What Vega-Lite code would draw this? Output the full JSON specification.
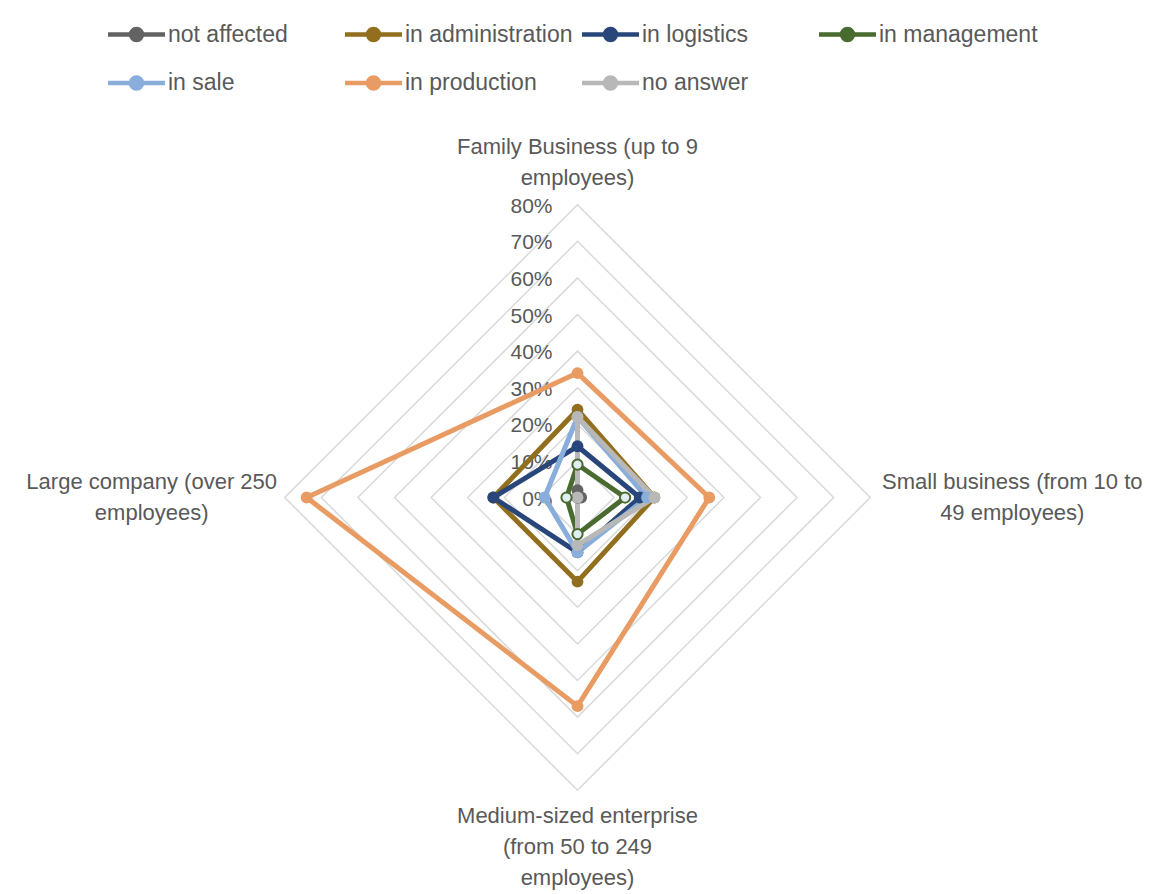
{
  "$schema": "https://vega.github.io/schema/vega-lite/v6.json",
  "width": 1164,
  "height": 894,
  "padding": 0,
  "autosize": {"type": "none"},
  "background": "white",
  "config": {"view": {"stroke": null}, "font": "Liberation Sans"},
  "datasets": {
    "survey": [
      {"category": "Family Business (up to 9 employees)", "series": "not affected", "value": 0.02},
      {"category": "Small business (from 10 to 49 employees)", "series": "not affected", "value": 0.01},
      {"category": "Medium-sized enterprise (from 50 to 249 employees)", "series": "not affected", "value": 0.0},
      {"category": "Large company (over 250 employees)", "series": "not affected", "value": 0.0},
      {"category": "Family Business (up to 9 employees)", "series": "in administration", "value": 0.24},
      {"category": "Small business (from 10 to 49 employees)", "series": "in administration", "value": 0.21},
      {"category": "Medium-sized enterprise (from 50 to 249 employees)", "series": "in administration", "value": 0.23},
      {"category": "Large company (over 250 employees)", "series": "in administration", "value": 0.23},
      {"category": "Family Business (up to 9 employees)", "series": "in logistics", "value": 0.14},
      {"category": "Small business (from 10 to 49 employees)", "series": "in logistics", "value": 0.17},
      {"category": "Medium-sized enterprise (from 50 to 249 employees)", "series": "in logistics", "value": 0.15},
      {"category": "Large company (over 250 employees)", "series": "in logistics", "value": 0.23},
      {"category": "Family Business (up to 9 employees)", "series": "in management", "value": 0.09},
      {"category": "Small business (from 10 to 49 employees)", "series": "in management", "value": 0.13},
      {"category": "Medium-sized enterprise (from 50 to 249 employees)", "series": "in management", "value": 0.10},
      {"category": "Large company (over 250 employees)", "series": "in management", "value": 0.03},
      {"category": "Family Business (up to 9 employees)", "series": "in sale", "value": 0.22},
      {"category": "Small business (from 10 to 49 employees)", "series": "in sale", "value": 0.19},
      {"category": "Medium-sized enterprise (from 50 to 249 employees)", "series": "in sale", "value": 0.15},
      {"category": "Large company (over 250 employees)", "series": "in sale", "value": 0.09},
      {"category": "Family Business (up to 9 employees)", "series": "in production", "value": 0.34},
      {"category": "Small business (from 10 to 49 employees)", "series": "in production", "value": 0.36},
      {"category": "Medium-sized enterprise (from 50 to 249 employees)", "series": "in production", "value": 0.57},
      {"category": "Large company (over 250 employees)", "series": "in production", "value": 0.74},
      {"category": "Family Business (up to 9 employees)", "series": "no answer", "value": 0.22},
      {"category": "Small business (from 10 to 49 employees)", "series": "no answer", "value": 0.21},
      {"category": "Medium-sized enterprise (from 50 to 249 employees)", "series": "no answer", "value": 0.13},
      {"category": "Large company (over 250 employees)", "series": "no answer", "value": 0.0}
    ],
    "rings": [
      {"level": 0.1, "k": [0, 1, 2, 3]},
      {"level": 0.2, "k": [0, 1, 2, 3]},
      {"level": 0.3, "k": [0, 1, 2, 3]},
      {"level": 0.4, "k": [0, 1, 2, 3]},
      {"level": 0.5, "k": [0, 1, 2, 3]},
      {"level": 0.6, "k": [0, 1, 2, 3]},
      {"level": 0.7, "k": [0, 1, 2, 3]},
      {"level": 0.8, "k": [0, 1, 2, 3]}
    ],
    "ticks": [
      {"level": 0}, {"level": 0.1}, {"level": 0.2}, {"level": 0.3}, {"level": 0.4},
      {"level": 0.5}, {"level": 0.6}, {"level": 0.7}, {"level": 0.8}
    ],
    "cats": [
      {"k": 0, "label": "Family Business (up to 9\nemployees)"},
      {"k": 1, "label": "Small business (from 10 to\n49 employees)"},
      {"k": 2, "label": "Medium-sized enterprise\n(from 50 to 249\nemployees)"},
      {"k": 3, "label": "Large company (over 250\nemployees)"}
    ]
  },
  "layer": [
    {
      "data": {"name": "rings"},
      "transform": [
        {"flatten": ["k"]},
        {"calculate": "PI/2 - datum.k*PI/2", "as": "angle"},
        {"calculate": "datum.level*cos(datum.angle)", "as": "px"},
        {"calculate": "datum.level*sin(datum.angle)", "as": "py"}
      ],
      "mark": {"type": "line", "interpolate": "linear-closed", "color": "#d9d9d9", "strokeWidth": 1.5},
      "encoding": {
        "x": {"field": "px", "type": "quantitative", "scale": {"domain": [-1.5779, 1.6025], "nice": false, "zero": false}, "axis": null},
        "y": {"field": "py", "type": "quantitative", "scale": {"domain": [-1.0833, 1.3593], "nice": false, "zero": false}, "axis": null},
        "detail": {"field": "level", "type": "nominal"},
        "order": {"field": "k", "type": "quantitative"}
      }
    },
    {
      "data": {"name": "ticks"},
      "transform": [{"calculate": "0", "as": "px"}],
      "mark": {"type": "text", "align": "right", "baseline": "middle", "dx": -25, "dy": 2, "fontSize": 21, "color": "#595959", "font": "Liberation Sans"},
      "encoding": {
        "x": {"field": "px", "type": "quantitative"},
        "y": {"field": "level", "type": "quantitative"},
        "text": {"field": "level", "type": "quantitative", "format": ".0%"}
      }
    },
    {
      "data": {"name": "cats"},
      "transform": [
        {"filter": "datum.k === 0"},
        {"calculate": "PI/2 - datum.k*PI/2", "as": "angle"},
        {"calculate": "0.8*cos(datum.angle)", "as": "px"},
        {"calculate": "0.8*sin(datum.angle)", "as": "py"}
      ],
      "mark": {"type": "text", "align": "center", "baseline": "middle", "dy": -57.5, "lineBreak": "\n", "lineHeight": 31, "fontSize": 22, "color": "#595959", "font": "Liberation Sans"},
      "encoding": {
        "x": {"field": "px", "type": "quantitative"},
        "y": {"field": "py", "type": "quantitative"},
        "text": {"field": "label", "type": "nominal"}
      }
    },
    {
      "data": {"name": "cats"},
      "transform": [
        {"filter": "datum.k === 1"},
        {"calculate": "PI/2 - datum.k*PI/2", "as": "angle"},
        {"calculate": "0.8*cos(datum.angle)", "as": "px"},
        {"calculate": "0.8*sin(datum.angle)", "as": "py"}
      ],
      "mark": {"type": "text", "align": "center", "baseline": "middle", "dx": 142, "dy": -15.5, "lineBreak": "\n", "lineHeight": 31, "fontSize": 22, "color": "#595959", "font": "Liberation Sans"},
      "encoding": {
        "x": {"field": "px", "type": "quantitative"},
        "y": {"field": "py", "type": "quantitative"},
        "text": {"field": "label", "type": "nominal"}
      }
    },
    {
      "data": {"name": "cats"},
      "transform": [
        {"filter": "datum.k === 2"},
        {"calculate": "PI/2 - datum.k*PI/2", "as": "angle"},
        {"calculate": "0.8*cos(datum.angle)", "as": "px"},
        {"calculate": "0.8*sin(datum.angle)", "as": "py"}
      ],
      "mark": {"type": "text", "align": "center", "baseline": "middle", "dy": 25.5, "lineBreak": "\n", "lineHeight": 31, "fontSize": 22, "color": "#595959", "font": "Liberation Sans"},
      "encoding": {
        "x": {"field": "px", "type": "quantitative"},
        "y": {"field": "py", "type": "quantitative"},
        "text": {"field": "label", "type": "nominal"}
      }
    },
    {
      "data": {"name": "cats"},
      "transform": [
        {"filter": "datum.k === 3"},
        {"calculate": "PI/2 - datum.k*PI/2", "as": "angle"},
        {"calculate": "0.8*cos(datum.angle)", "as": "px"},
        {"calculate": "0.8*sin(datum.angle)", "as": "py"}
      ],
      "mark": {"type": "text", "align": "center", "baseline": "middle", "dx": -133, "dy": -15.5, "lineBreak": "\n", "lineHeight": 31, "fontSize": 22, "color": "#595959", "font": "Liberation Sans"},
      "encoding": {
        "x": {"field": "px", "type": "quantitative"},
        "y": {"field": "py", "type": "quantitative"},
        "text": {"field": "label", "type": "nominal"}
      }
    },
    {
      "data": {"name": "survey"},
      "transform": [
        {"calculate": "indexof(['Family Business (up to 9 employees)','Small business (from 10 to 49 employees)','Medium-sized enterprise (from 50 to 249 employees)','Large company (over 250 employees)'], datum.category)", "as": "k"},
        {"calculate": "PI/2 - datum.k*PI/2", "as": "angle"},
        {"calculate": "datum.value*cos(datum.angle)", "as": "px"},
        {"calculate": "datum.value*sin(datum.angle)", "as": "py"}
      ],
      "layer": [
        {
          "mark": {"type": "line", "interpolate": "linear-closed", "strokeWidth": 5, "strokeJoin": "round"},
          "encoding": {
            "x": {"field": "px", "type": "quantitative"},
            "y": {"field": "py", "type": "quantitative"},
            "order": {"field": "k", "type": "quantitative"},
            "color": {
              "field": "series",
              "type": "nominal",
              "scale": {
                "domain": ["not affected", "in administration", "in logistics", "in management", "in sale", "in production", "no answer"],
                "range": ["#636363", "#926F1E", "#29467A", "#4A6B2F", "#8AAEDB", "#E99B64", "#B8B8B8"]
              },
              "legend": {
                "orient": "none",
                "legendX": 120,
                "legendY": 18,
                "columns": 4,
                "direction": "horizontal",
                "title": null,
                "gridAlign": "all",
                "columnPadding": 0,
                "rowPadding": 17.5,
                "padding": 0,
                "symbolType": "M-2,0L2,0M0.386,0A0.386,0.386,0,1,1,-0.386,0A0.386,0.386,0,1,1,0.386,0Z",
                "symbolSize": 812,
                "symbolStrokeWidth": 4.5,
                "labelFont": "Liberation Sans",
                "labelFontSize": 23,
                "labelColor": "#595959",
                "labelOffset": 15,
                "labelLimit": 0,
                "encode": {
                  "symbols": {
                    "update": {
                      "fill": {"scale": "color", "field": "value"},
                      "stroke": {"scale": "color", "field": "value"},
                      "strokeWidth": {"value": 4.5},
                      "opacity": {"value": 1}
                    }
                  }
                }
              }
            }
          }
        },
        {
          "transform": [{"filter": "datum.series !== 'in management'"}],
          "mark": {"type": "point", "filled": true, "size": 140, "opacity": 1},
          "encoding": {
            "x": {"field": "px", "type": "quantitative"},
            "y": {"field": "py", "type": "quantitative"},
            "color": {"field": "series", "type": "nominal"}
          }
        },
        {
          "transform": [{"filter": "datum.series === 'in management'"}],
          "mark": {"type": "point", "filled": false, "size": 105, "fill": "#e3edf6", "stroke": "#4A6B2F", "strokeWidth": 2, "opacity": 1, "fillOpacity": 1},
          "encoding": {
            "x": {"field": "px", "type": "quantitative"},
            "y": {"field": "py", "type": "quantitative"}
          }
        }
      ]
    }
  ]
}
